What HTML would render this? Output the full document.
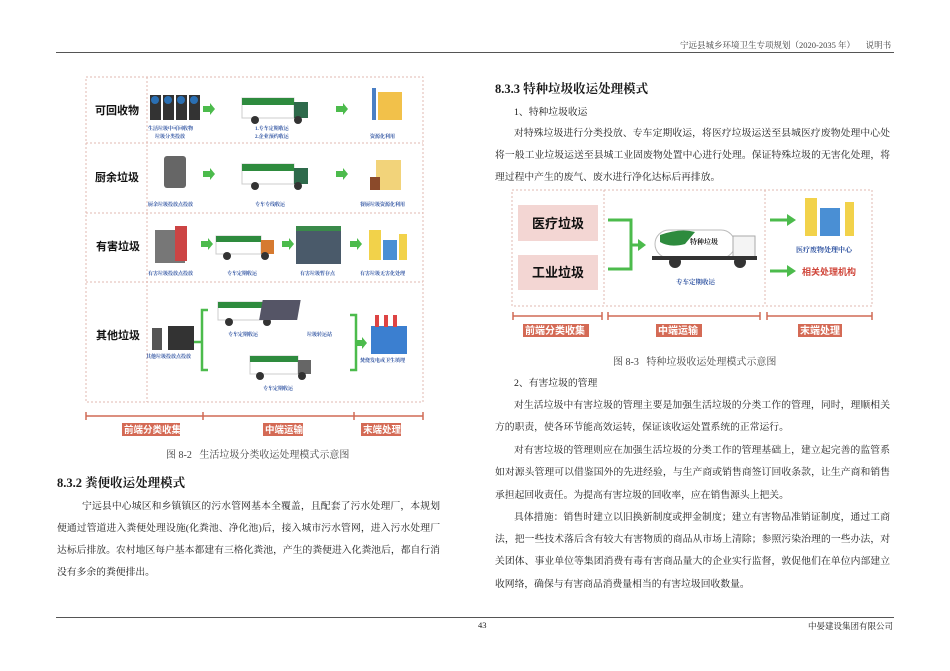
<!DOCTYPE html>
<html><head><meta charset="utf-8"><style>
body{margin:0;width:950px;height:671px;background:#fff;position:relative;overflow:hidden;font-family:"Liberation Serif","Noto Serif CJK SC","Noto Sans CJK SC",serif;color:#1a1a1a}
.a{position:absolute;white-space:nowrap}
.t{font-size:9.8px}
.j{text-align:justify;text-align-last:justify;white-space:normal;overflow:hidden;height:15px}
.h{font-size:12.5px;font-weight:bold}
</style></head><body>
<div class="a" style="left:56px;top:52px;width:838px;border-top:1.5px solid #555"></div>
<div class="a" style="left:680px;top:39px;font-size:8.5px;color:#444">宁远县城乡环境卫生专项规划（2020-2035 年）&nbsp;&nbsp;&nbsp;&nbsp;&nbsp;说明书</div>
<div class="a" style="left:56px;top:617px;width:838px;border-top:1px solid #555"></div>
<div class="a" style="left:478px;top:620px;font-size:8.5px">43</div>
<div class="a" style="left:808px;top:620px;font-size:8.5px">中晏建设集团有限公司</div>

<!-- left figure -->
<svg class="a" style="left:60px;top:60px" width="380" height="390">
<g fill="none" stroke="#e2b8b0" stroke-dasharray="2,2">
<rect x="26" y="17" width="337" height="325"/>
<line x1="26" y1="83" x2="363" y2="83"/><line x1="26" y1="153" x2="363" y2="153"/><line x1="26" y1="222" x2="363" y2="222"/>
<line x1="87" y1="17" x2="87" y2="342"/>
</g>
<g font-family="Liberation Sans,Noto Sans CJK SC,sans-serif" font-weight="bold" font-size="11" fill="#111">
<text x="35" y="54">可回收物</text><text x="35" y="121">厨余垃圾</text><text x="36" y="190">有害垃圾</text><text x="36" y="279">其他垃圾</text></g>
<g fill="#333"><rect x="90" y="35" width="11" height="25"/><rect x="103" y="35" width="11" height="25"/><rect x="116" y="35" width="11" height="25"/><rect x="129" y="35" width="11" height="25"/></g>
<g fill="#2a6fb3"><circle cx="95" cy="40" r="4"/><circle cx="108" cy="40" r="4"/><circle cx="121" cy="40" r="4"/><circle cx="134" cy="40" r="4"/></g>
<g fill="#4cbb4c"><polygon points="143,46 150,46 150,43 155,49 150,55 150,52 143,52"/><polygon points="276,46 283,46 283,43 288,49 283,55 283,52 276,52"/>
<polygon points="143,111 150,111 150,108 155,114 150,120 150,117 143,117"/><polygon points="276,111 283,111 283,108 288,114 283,120 283,117 276,117"/>
<polygon points="141,181 148,181 148,178 153,184 148,190 148,187 141,187"/><polygon points="222,181 229,181 229,178 234,184 229,190 229,187 222,187"/><polygon points="290,181 297,181 297,178 302,184 297,190 297,187 290,187"/>
<polygon points="222,250 229,250 229,247 234,253 229,259 229,256 222,256"/>
<polygon points="295,280 302,280 302,277 307,283 302,289 302,286 295,286"/>
</g>
<g fill="none" stroke="#4cbb4c" stroke-width="2.5"><path d="M148,250 H142 V310 H148"/><path d="M125,282 H142"/><path d="M290,255 H296 V310 H290"/></g>
<g>
<rect x="182" y="38" width="52" height="20" fill="#fff" stroke="#ccc"/><rect x="182" y="38" width="52" height="7" fill="#2e8b3e"/><rect x="234" y="42" width="14" height="16" fill="#2e6a4b"/><circle cx="195" cy="60" r="4" fill="#333"/><circle cx="238" cy="60" r="4" fill="#333"/>
<rect x="182" y="104" width="52" height="20" fill="#fff" stroke="#ccc"/><rect x="182" y="104" width="52" height="7" fill="#2e8b3e"/><rect x="234" y="108" width="14" height="16" fill="#2e6a4b"/><circle cx="195" cy="126" r="4" fill="#333"/><circle cx="238" cy="126" r="4" fill="#333"/>
<rect x="156" y="176" width="45" height="18" fill="#fff" stroke="#ccc"/><rect x="156" y="176" width="45" height="6" fill="#2e8b3e"/><rect x="201" y="180" width="13" height="14" fill="#d67a30"/><circle cx="167" cy="196" r="4" fill="#333"/><circle cx="205" cy="196" r="4" fill="#333"/>
<rect x="158" y="242" width="45" height="18" fill="#fff" stroke="#ccc"/><rect x="158" y="242" width="45" height="6" fill="#2e8b3e"/><rect x="203" y="246" width="13" height="14" fill="#666"/><circle cx="169" cy="262" r="4" fill="#333"/><circle cx="207" cy="262" r="4" fill="#333"/>
<rect x="190" y="296" width="48" height="18" fill="#fff" stroke="#ccc"/><rect x="190" y="296" width="48" height="6" fill="#2e8b3e"/><rect x="238" y="300" width="13" height="14" fill="#666"/><circle cx="200" cy="316" r="4" fill="#333"/><circle cx="242" cy="316" r="4" fill="#333"/>
</g>
<rect x="104" y="96" width="22" height="32" rx="3" fill="#666"/>
<rect x="95" y="170" width="30" height="33" fill="#777"/><rect x="115" y="166" width="12" height="35" fill="#c44"/>
<rect x="92" y="268" width="10" height="22" fill="#555"/><rect x="108" y="266" width="26" height="24" fill="#333"/>
<rect x="318" y="32" width="24" height="28" fill="#f2c14a"/><rect x="312" y="28" width="4" height="32" fill="#4a7fc4"/>
<rect x="316" y="100" width="25" height="30" fill="#f2d37a"/><rect x="310" y="117" width="10" height="13" fill="#8b4a2a"/>
<rect x="309" y="170" width="12" height="30" fill="#f2d24a"/><rect x="323" y="180" width="14" height="20" fill="#4a8fd4"/><rect x="339" y="174" width="8" height="26" fill="#f2d24a"/>
<rect x="236" y="168" width="45" height="36" fill="#4a5a6a"/><rect x="236" y="166" width="45" height="5" fill="#3a8a4a"/>
<rect x="245" y="240" width="38" height="20" fill="#556" transform="skewX(-10)"/>
<rect x="311" y="266" width="36" height="28" fill="#3b7fd0"/><rect x="315" y="255" width="4" height="12" fill="#d44"/><rect x="324" y="255" width="4" height="12" fill="#d44"/><rect x="333" y="255" width="4" height="12" fill="#d44"/>
<g font-size="5" fill="#2a4f9f" font-weight="bold">
<text x="88" y="70">生活垃圾中可回收物</text><text x="95" y="78">垃圾分类投放</text><text x="195" y="70">1.专车定期收运</text><text x="195" y="78">2.企业预约收运</text><text x="310" y="78">资源化利用</text>
<text x="88" y="146">厨余垃圾投放点投放</text><text x="195" y="146">专车专线收运</text><text x="300" y="146">餐厨垃圾资源化利用</text>
<text x="88" y="215">有害垃圾投放点投放</text><text x="167" y="215">专车定期收运</text><text x="240" y="215">有害垃圾暂存点</text><text x="300" y="215">有害垃圾无害化处理</text>
<text x="86" y="298">其他垃圾投放点投放</text><text x="168" y="276">专车定期收运</text><text x="247" y="276">垃圾转运站</text><text x="300" y="302">焚烧发电或卫生填埋</text><text x="203" y="330">专车定期收运</text></g>
<g stroke="#d06a55" stroke-width="1.5"><line x1="26" y1="356" x2="363" y2="356"/><line x1="26" y1="352" x2="26" y2="360"/><line x1="143" y1="352" x2="143" y2="360"/><line x1="294" y1="352" x2="294" y2="360"/><line x1="363" y1="352" x2="363" y2="360"/></g>
<g fill="#d46a55"><rect x="62" y="363" width="58" height="13"/><rect x="203" y="363" width="40" height="13"/><rect x="301" y="363" width="40" height="13"/></g>
<g fill="#fff" font-size="9.5" font-weight="bold" font-family="Liberation Sans,Noto Sans CJK SC,sans-serif"><text x="64" y="373">前端分类收集</text><text x="205" y="373">中端运输</text><text x="303" y="373">末端处理</text></g>
</svg>
<div class="a" style="left:166px;top:446px;font-size:10px;color:#444">图 8-2&nbsp;&nbsp;&nbsp;生活垃圾分类收运处理模式示意图</div>

<div class="a h" style="left:57px;top:473px">8.3.2 粪便收运处理模式</div>
<div class="a t j" style="left:82px;top:498px;width:358px">宁远县中心城区和乡镇镇区的污水管网基本全覆盖，且配套了污水处理厂，本规划建议粪</div>
<div class="a t j" style="left:57px;top:520px;width:383px">便通过管道进入粪便处理设施(化粪池、净化池)后，接入城市污水管网，进入污水处理厂处理，</div>
<div class="a t j" style="left:57px;top:542px;width:383px">达标后排放。农村地区每户基本都建有三格化粪池，产生的粪便进入化粪池后，都自行消纳了，</div>
<div class="a t" style="left:57px;top:564px">没有多余的粪便排出。</div>

<!-- right -->
<div class="a h" style="left:495px;top:79px">8.3.3 特种垃圾收运处理模式</div>
<div class="a t" style="left:514px;top:104px">1、特种垃圾收运</div>
<div class="a t j" style="left:514px;top:125px;width:376px">对特殊垃圾进行分类投放、专车定期收运，将医疗垃圾运送至县城医疗废物处理中心处理；</div>
<div class="a t j" style="left:495px;top:147px;width:395px">将一般工业垃圾运送至县城工业固废物处置中心进行处理。保证特殊垃圾的无害化处理，将处</div>
<div class="a t" style="left:495px;top:169px">理过程中产生的废气、废水进行净化达标后再排放。</div>

<svg class="a" style="left:480px;top:180px" width="400" height="170">
<g fill="none" stroke="#e2b8b0" stroke-dasharray="2,2"><rect x="32" y="10" width="360" height="116"/><line x1="124" y1="10" x2="124" y2="126"/><line x1="285" y1="10" x2="285" y2="126"/></g>
<rect x="38" y="25" width="80" height="36" fill="#f3d6d3"/><rect x="38" y="75" width="80" height="35" fill="#f3d6d3"/>
<g font-family="Liberation Sans,Noto Sans CJK SC,sans-serif" font-weight="bold" font-size="13" fill="#111"><text x="52" y="48">医疗垃圾</text><text x="52" y="97">工业垃圾</text></g>
<g fill="none" stroke="#4cbb4c" stroke-width="3"><path d="M128,40 H151 V89 H128"/><path d="M151,65 H158"/><path d="M290,40 H308"/><path d="M290,91 H308"/></g>
<g fill="#4cbb4c"><polygon points="158,59 166,65 158,71"/><polygon points="307,34 316,40 307,46"/><polygon points="307,85 316,91 307,97"/></g>
<rect x="175" y="50" width="80" height="28" rx="14" fill="#fff" stroke="#bbb"/><path d="M180,55 Q200,48 215,52 L205,64 Q190,68 180,62Z" fill="#2e8b3e"/>
<text x="210" y="64" font-size="7" font-weight="bold" fill="#222">特种垃圾</text>
<rect x="253" y="56" width="22" height="22" fill="#f4f4f4" stroke="#aaa"/><rect x="172" y="76" width="105" height="4" fill="#333"/>
<circle cx="195" cy="82" r="6" fill="#333"/><circle cx="260" cy="82" r="6" fill="#333"/>
<text x="196" y="104" font-size="6.5" fill="#2a4f9f" font-weight="bold">专车定期收运</text>
<rect x="325" y="18" width="12" height="38" fill="#f2d24a"/><rect x="340" y="28" width="20" height="28" fill="#4a8fd4"/><rect x="365" y="22" width="9" height="34" fill="#f2d24a"/>
<text x="316" y="72" font-size="7" fill="#2a4f9f" font-weight="bold">医疗废物处理中心</text>
<text x="322" y="95" font-size="9" fill="#d0463a" font-weight="bold" font-family="Liberation Sans,Noto Sans CJK SC,sans-serif">相关处理机构</text>
<g stroke="#d06a55" stroke-width="1.5"><line x1="33" y1="136" x2="122" y2="136"/><line x1="128" y1="136" x2="280" y2="136"/><line x1="287" y1="136" x2="392" y2="136"/>
<line x1="33" y1="132" x2="33" y2="140"/><line x1="122" y1="132" x2="122" y2="140"/><line x1="128" y1="132" x2="128" y2="140"/><line x1="280" y1="132" x2="280" y2="140"/><line x1="287" y1="132" x2="287" y2="140"/><line x1="392" y1="132" x2="392" y2="140"/></g>
<g fill="#d46a55"><rect x="43" y="144" width="66" height="13"/><rect x="176" y="144" width="46" height="13"/><rect x="318" y="144" width="44" height="13"/></g>
<g fill="#fff" font-size="10" font-weight="bold" font-family="Liberation Sans,Noto Sans CJK SC,sans-serif"><text x="45" y="154">前端分类收集</text><text x="178" y="154">中端运输</text><text x="320" y="154">末端处理</text></g>
</svg>
<div class="a" style="left:613px;top:353px;font-size:10px;color:#444">图 8-3&nbsp;&nbsp;&nbsp;特种垃圾收运处理模式示意图</div>

<div class="a t" style="left:514px;top:375px">2、有害垃圾的管理</div>
<div class="a t j" style="left:514px;top:397px;width:376px">对生活垃圾中有害垃圾的管理主要是加强生活垃圾的分类工作的管理，同时，理顺相关各</div>
<div class="a t" style="left:495px;top:419px">方的职责，使各环节能高效运转，保证该收运处置系统的正常运行。</div>
<div class="a t j" style="left:514px;top:442px;width:376px">对有害垃圾的管理则应在加强生活垃圾的分类工作的管理基础上，建立起完善的监管系统：</div>
<div class="a t j" style="left:495px;top:464px;width:395px">如对源头管理可以借鉴国外的先进经验，与生产商或销售商签订回收条款，让生产商和销售商</div>
<div class="a t" style="left:495px;top:487px">承担起回收责任。为提高有害垃圾的回收率，应在销售源头上把关。</div>
<div class="a t j" style="left:514px;top:509px;width:376px">具体措施：销售时建立以旧换新制度或押金制度；建立有害物品准销证制度，通过工商执</div>
<div class="a t j" style="left:495px;top:531px;width:395px">法，把一些技术落后含有较大有害物质的商品从市场上清除；参照污染治理的一些办法，对机</div>
<div class="a t j" style="left:495px;top:553px;width:395px">关团体、事业单位等集团消费有毒有害商品量大的企业实行监督，敦促他们在单位内部建立回</div>
<div class="a t" style="left:495px;top:576px">收网络，确保与有害商品消费量相当的有害垃圾回收数量。</div>
</body></html>
